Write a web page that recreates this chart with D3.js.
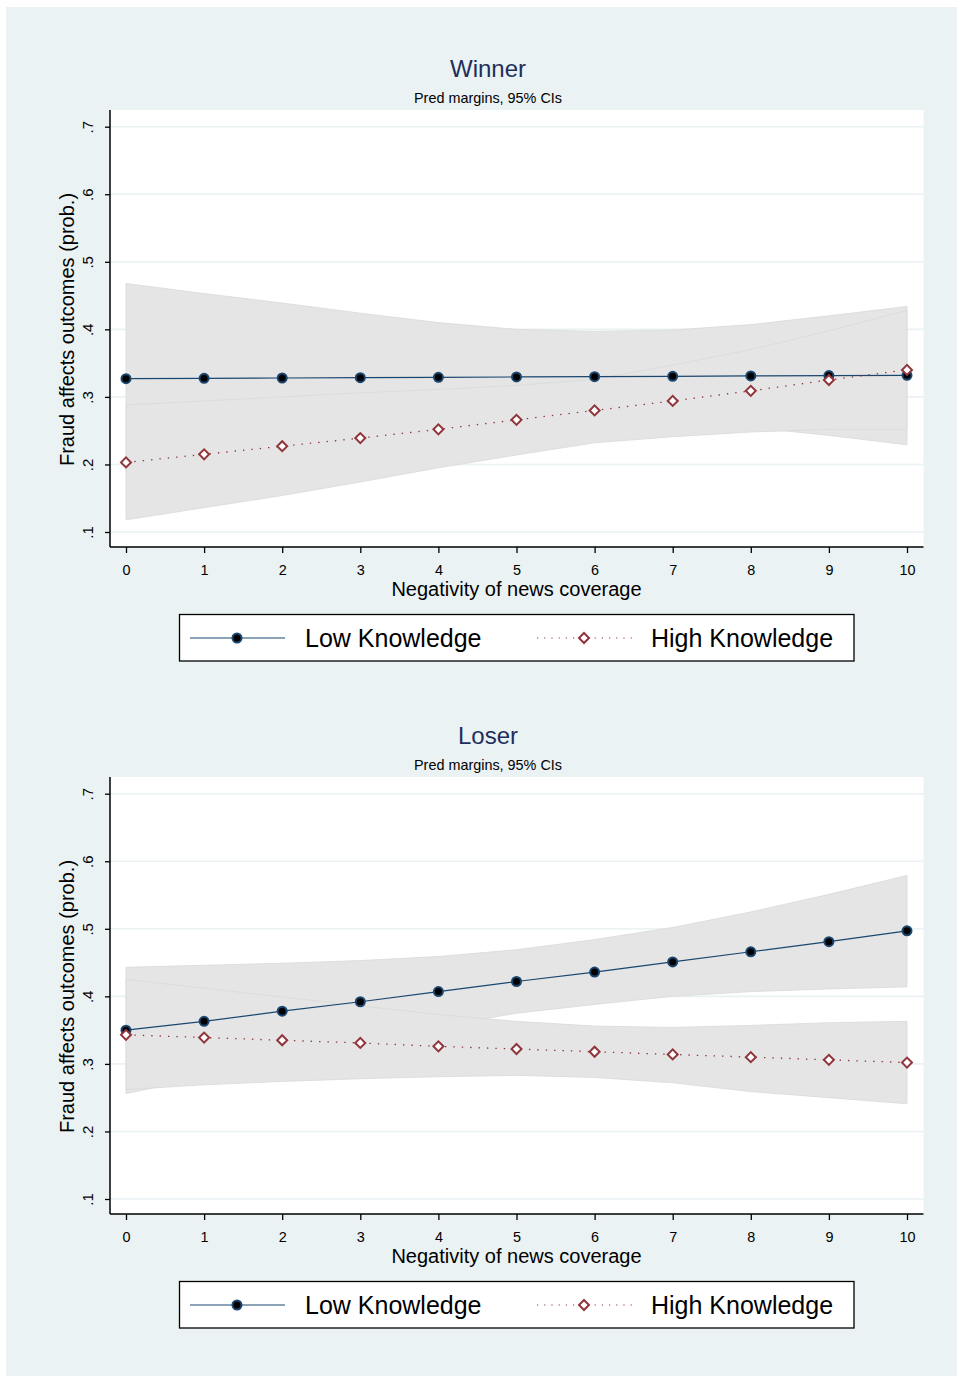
<!DOCTYPE html>
<html>
<head>
<meta charset="utf-8">
<script src="https://cdn.jsdelivr.net/npm/d3@7"></script>
<style>
  body { margin: 0; background: #fff; }
  svg { display: block; font-family: "Liberation Sans", Arial, Helvetica, sans-serif; }
</style>
</head>
<body>
<div id="chart"></div>
<script>
// x values and axis ticks
const negativity = [0, 1, 2, 3, 4, 5, 6, 7, 8, 9, 10];
const yTicks = [0.1, 0.2, 0.3, 0.4, 0.5, 0.6, 0.7];

// Winner panel: predicted margins and 95% CIs
const winnerLow    = [0.327, 0.3275, 0.328, 0.3285, 0.329, 0.3295, 0.330, 0.3305, 0.331, 0.3315, 0.332];
const winnerLowLo  = [0.186, 0.202, 0.217, 0.233, 0.248, 0.259, 0.263, 0.262, 0.255, 0.243, 0.229];
const winnerLowHi  = [0.468, 0.453, 0.439, 0.424, 0.410, 0.400, 0.397, 0.399, 0.407, 0.420, 0.434];
const winnerHigh   = [0.203, 0.215, 0.227, 0.239, 0.252, 0.266, 0.280, 0.294, 0.309, 0.325, 0.340];
const winnerHighLo = [0.118, 0.136, 0.154, 0.174, 0.195, 0.214, 0.232, 0.241, 0.248, 0.252, 0.252];
const winnerHighHi = [0.288, 0.294, 0.300, 0.306, 0.311, 0.317, 0.326, 0.347, 0.370, 0.398, 0.428];

// Loser panel
const loserLow    = [0.350, 0.363, 0.378, 0.392, 0.407, 0.422, 0.436, 0.451, 0.466, 0.481, 0.497];
const loserLowLo  = [0.256, 0.280, 0.307, 0.331, 0.355, 0.375, 0.388, 0.400, 0.407, 0.411, 0.414];
const loserLowHi  = [0.443, 0.446, 0.449, 0.453, 0.459, 0.469, 0.484, 0.502, 0.525, 0.551, 0.579];
const loserHigh   = [0.343, 0.339, 0.335, 0.331, 0.326, 0.322, 0.318, 0.314, 0.310, 0.306, 0.302];
const loserHighLo = [0.262, 0.269, 0.274, 0.278, 0.281, 0.283, 0.280, 0.272, 0.259, 0.250, 0.241];
const loserHighHi = [0.425, 0.412, 0.399, 0.386, 0.373, 0.363, 0.356, 0.354, 0.357, 0.361, 0.363];

const panels = [
  {title: 'Winner', low: winnerLow, lowLo: winnerLowLo, lowHi: winnerLowHi,
   high: winnerHigh, highLo: winnerHighLo, highHi: winnerHighHi},
  {title: 'Loser', low: loserLow, lowLo: loserLowLo, lowHi: loserLowHi,
   high: loserHigh, highLo: loserHighLo, highHi: loserHighHi}
];

const W = 957, H = 1376,
  panelStep = 667,
  navy = '#1a476f', maroon = '#90353b',
  bandFill = '#e5e5e5', bandLine = '#d9d9d9',
  grid = '#eaf2f3';

const svg = d3.select('#chart').append('svg')
  .attr('width', W).attr('height', H);

// outer graph region
svg.append('rect')
  .attr('x', 6).attr('y', 7)
  .attr('width', W - 6).attr('height', H - 7)
  .attr('fill', '#eaf2f3');

// plot region bounds (within a panel)
const plot = {left: 110, right: 923.5, top: 110, bottom: 547};

const x = d3.scaleLinear().domain([0, 10]).range([126, 907]);
const y = d3.scaleLinear().domain([0.1, 0.7]).range([532, 126.7]);

const diamond = d3.symbol().type(d3.symbolSquare).size(50)();

panels.forEach((p, pi) => {
  const g = svg.append('g').attr('transform', 'translate(0,' + pi * panelStep + ')');

  // titles
  g.append('text')
    .attr('x', 488).attr('y', 77)
    .attr('text-anchor', 'middle')
    .attr('font-size', 24)
    .attr('fill', '#1e2f5c')
    .text(p.title);
  g.append('text')
    .attr('x', 488).attr('y', 103)
    .attr('text-anchor', 'middle')
    .attr('font-size', 14.4)
    .attr('fill', '#000')
    .text('Pred margins, 95% CIs');

  // white plot area
  g.append('rect')
    .attr('x', plot.left).attr('y', plot.top)
    .attr('width', plot.right - plot.left)
    .attr('height', plot.bottom - plot.top)
    .attr('fill', '#fff');

  // gridlines
  g.selectAll('line.grid')
    .data(yTicks)
    .enter().append('line')
    .attr('class', 'grid')
    .attr('x1', plot.left).attr('x2', plot.right)
    .attr('y1', d => y(d)).attr('y2', d => y(d))
    .attr('stroke', grid).attr('stroke-width', 1.6);

  // confidence bands
  const band = (lo, hi) => d3.area()
    .x((d, i) => x(negativity[i]))
    .y0((d, i) => y(lo[i]))
    .y1((d, i) => y(hi[i]))(negativity);

  g.append('path')
    .attr('d', band(p.lowLo, p.lowHi))
    .attr('fill', bandFill).attr('stroke', bandLine).attr('stroke-width', 0.8);
  g.append('path')
    .attr('d', band(p.highLo, p.highHi))
    .attr('fill', bandFill).attr('stroke', bandLine).attr('stroke-width', 0.8);

  const line = vals => d3.line()
    .x((d, i) => x(negativity[i]))
    .y((d, i) => y(vals[i]))(negativity);

  // Low Knowledge line
  g.append('path')
    .attr('d', line(p.low))
    .attr('fill', 'none').attr('stroke', navy).attr('stroke-width', 1.2);

  // High Knowledge dotted line
  g.append('path')
    .attr('d', line(p.high))
    .attr('fill', 'none').attr('stroke', maroon)
    .attr('stroke-width', 1.3).attr('stroke-dasharray', '1.4 7');

  g.selectAll('circle.low')
    .data(p.low)
    .enter().append('circle')
    .attr('class', 'low')
    .attr('cx', (d, i) => x(negativity[i]))
    .attr('cy', d => y(d))
    .attr('r', 4.5)
    .attr('fill', '#000').attr('stroke', navy).attr('stroke-width', 2);

  g.selectAll('path.high')
    .data(p.high)
    .enter().append('path')
    .attr('class', 'high')
    .attr('d', diamond)
    .attr('transform', (d, i) => 'translate(' + x(negativity[i]) + ',' + y(d) + ') rotate(45)')
    .attr('fill', '#fff').attr('stroke', maroon).attr('stroke-width', 2);

  // axes
  const yAxis = g.append('g')
    .attr('transform', 'translate(' + plot.left + ',0)')
    .call(d3.axisLeft(y).tickValues(yTicks).tickSize(5).tickPadding(0)
      .tickFormat(d => d3.format('.1f')(d).replace(/^0/, '')));
  yAxis.attr('font-size', null).attr('font-family', null);
  yAxis.select('.domain').attr('d', 'M0,' + plot.top + 'V' + plot.bottom)
    .attr('stroke', '#000').attr('stroke-width', 1.5);
  yAxis.selectAll('.tick line').attr('stroke', '#000').attr('stroke-width', 1.3);
  yAxis.selectAll('.tick text')
    .attr('x', 0).attr('y', 0).attr('dy', null)
    .attr('transform', 'translate(-17,0) rotate(-90)')
    .attr('text-anchor', 'middle')
    .attr('font-size', 15).attr('fill', '#000');

  const xAxis = g.append('g')
    .attr('transform', 'translate(0,' + plot.bottom + ')')
    .call(d3.axisBottom(x).tickValues(negativity).tickSize(6).tickPadding(0)
      .tickFormat(d3.format('d')));
  xAxis.attr('font-size', null).attr('font-family', null);
  xAxis.select('.domain').attr('d', 'M' + plot.left + ',0H' + plot.right)
    .attr('stroke', '#000').attr('stroke-width', 1.5);
  xAxis.selectAll('.tick line').attr('stroke', '#000').attr('stroke-width', 1.3);
  xAxis.selectAll('.tick text')
    .attr('y', 28).attr('dy', null)
    .attr('font-size', 14.4).attr('fill', '#000');

  // axis titles
  g.append('text')
    .attr('x', 516.5).attr('y', 596)
    .attr('text-anchor', 'middle')
    .attr('font-size', 20)
    .text('Negativity of news coverage');
  g.append('text')
    .attr('transform', 'translate(74,329.5) rotate(-90)')
    .attr('text-anchor', 'middle')
    .attr('font-size', 20)
    .text('Fraud affects outcomes (prob.)');

  // legend
  const lg = g.append('g');
  lg.append('rect')
    .attr('x', 179.5).attr('y', 614.5)
    .attr('width', 674.5).attr('height', 46.5)
    .attr('fill', '#fff').attr('stroke', '#000').attr('stroke-width', 1.3);

  lg.append('line')
    .attr('x1', 190).attr('x2', 285).attr('y1', 638).attr('y2', 638)
    .attr('stroke', navy).attr('stroke-width', 1.2);
  lg.append('circle')
    .attr('cx', 237).attr('cy', 638).attr('r', 4.5)
    .attr('fill', '#000').attr('stroke', navy).attr('stroke-width', 2);
  lg.append('text')
    .attr('x', 305).attr('y', 647)
    .attr('font-size', 25)
    .text('Low Knowledge');

  lg.append('line')
    .attr('x1', 537).attr('x2', 632).attr('y1', 638).attr('y2', 638)
    .attr('stroke', maroon).attr('stroke-width', 1.1).attr('stroke-dasharray', '1.2 6');
  lg.append('path')
    .attr('d', diamond)
    .attr('transform', 'translate(584,638) rotate(45)')
    .attr('fill', '#fff').attr('stroke', maroon).attr('stroke-width', 2);
  lg.append('text')
    .attr('x', 651).attr('y', 647)
    .attr('font-size', 25)
    .text('High Knowledge');
});
</script>
</body>
</html>
